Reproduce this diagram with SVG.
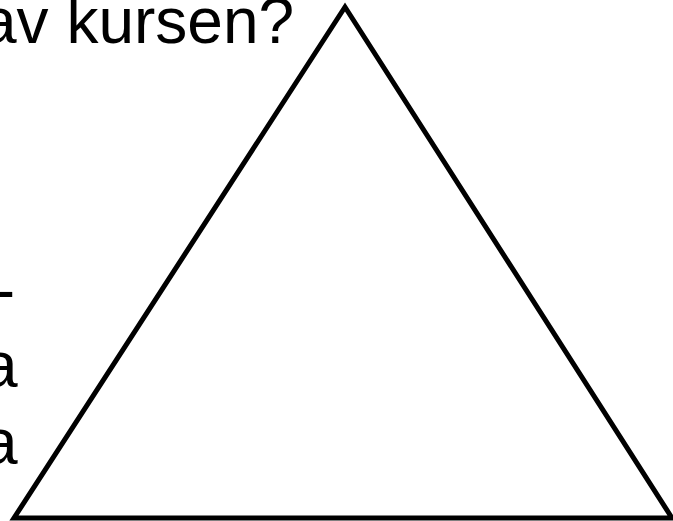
<svg xmlns="http://www.w3.org/2000/svg" width="673" height="521" viewBox="0 0 673 521">
<style>
.t{font-family:"Liberation Sans",Arial,sans-serif;font-size:64px;fill:#000}
.tri{fill:none;stroke:#000;stroke-width:5;stroke-linejoin:miter}
</style>
<rect width="673" height="521" fill="#fff"/>
<g id="text">
<text class="t" x="-19" y="43">av kursen?</text>
<text class="t" x="15" y="312" text-anchor="end">-</text>
<text class="t" x="-18" y="387">a</text>
<text class="t" x="-18" y="464">a</text>
</g>
<g id="triangle">
<polygon class="tri" points="345,7 14,518 672,518"/>
</g>
</svg>
